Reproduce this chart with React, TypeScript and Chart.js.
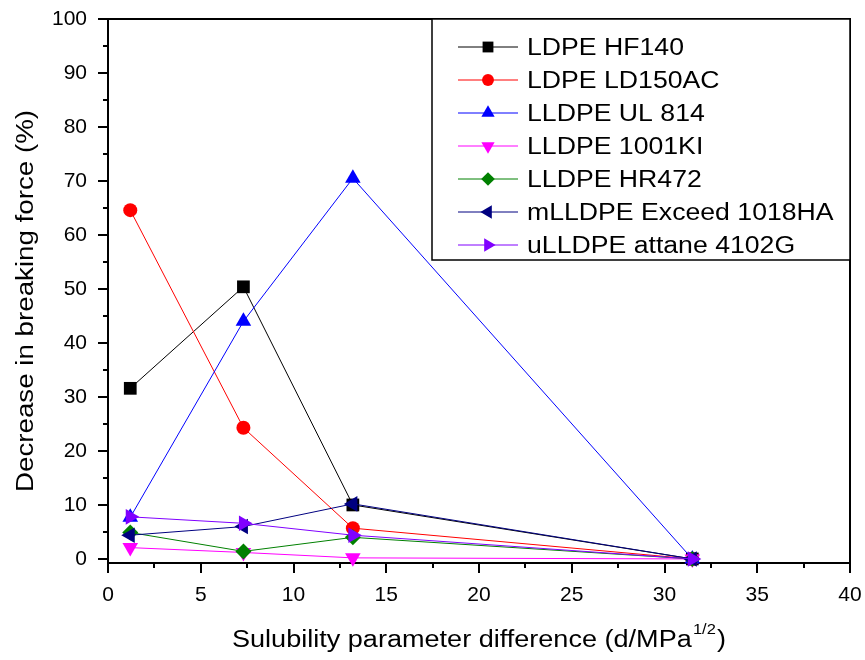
import React, { useEffect, useRef } from "react";
import { Chart, registerables } from "chart.js";

Chart.register(...registerables);

// ---- data ----
const xValues = [1.2, 7.3, 13.2, 31.5];
const seriesNames = [
  "LDPE HF140",
  "LDPE LD150AC",
  "LLDPE UL 814",
  "LLDPE 1001KI",
  "LLDPE HR472",
  "mLLDPE Exceed 1018HA",
  "uLLDPE attane 4102G",
];
const hf140 = [31.6, 50.4, 10.0, 0];
const ld150ac = [64.6, 24.3, 5.7, 0];
const ul814 = [7.7, 44.0, 70.5, 0];
const ki1001 = [2.1, 1.2, 0.2, 0];
const hr472 = [4.9, 1.4, 4.0, 0];
const exceed = [4.4, 6.0, 10.2, 0];
const attane = [7.8, 6.6, 4.4, 0];
const seriesValues = [hf140, ld150ac, ul814, ki1001, hr472, exceed, attane];

const xTicks = [0, 5, 10, 15, 20, 25, 30, 35, 40];
const xMinorTicks = [2.5, 7.5, 12.5, 17.5, 22.5, 27.5, 32.5, 37.5];
const yTicks = [0, 10, 20, 30, 40, 50, 60, 70, 80, 90, 100];
const yMinorTicks = [5, 15, 25, 35, 45, 55, 65, 75, 85, 95];

const xTitleMain = "Sulubility parameter difference (d/MPa";
const xTitleSup = "1/2";
const xTitleClose = ")";
const yTitle = "Decrease in breaking force (%)";

// ---- styles ----
const colors = ["#000000", "#ff0000", "#0000ff", "#ff00ff", "#008000", "#000080", "#8000ff"];
const pointStyles = ["rect", "circle", "triangle", "triangle", "rectRot", "triangle", "triangle"];
const rotations = [0, 0, 0, 180, 0, 270, 90];
const radii = [9, 7, 9, 9, 8, 9, 9];

const FONT = "'Liberation Sans', Arial, Helvetica, sans-serif";

function drawMarker(ctx: CanvasRenderingContext2D, style: string, r: number, rotDeg: number, x: number, y: number) {
  const rad = (rotDeg * Math.PI) / 180;
  ctx.beginPath();
  if (style === "rect") {
    const s = r * Math.SQRT1_2;
    ctx.rect(x - s, y - s, 2 * s, 2 * s);
  } else if (style === "circle") {
    ctx.arc(x, y, r, 0, Math.PI * 2);
  } else if (style === "rectRot") {
    ctx.moveTo(x, y - r);
    ctx.lineTo(x + r, y);
    ctx.lineTo(x, y + r);
    ctx.lineTo(x - r, y);
    ctx.closePath();
  } else {
    for (let k = 0; k < 3; k++) {
      const a = rad - Math.PI / 2 + (k * 2 * Math.PI) / 3;
      const px = x + Math.cos(a) * r;
      const py = y + Math.sin(a) * r;
      if (k === 0) ctx.moveTo(px, py);
      else ctx.lineTo(px, py);
    }
    ctx.closePath();
  }
  ctx.fill();
}

const framePlugin = {
  id: "frameAndTicks",
  beforeDatasetsDraw(chart: any) {
    const { ctx, chartArea } = chart;
    const xs = chart.scales.x;
    const ys = chart.scales.y;
    const { left, right, top, bottom } = chartArea;
    ctx.save();
    ctx.strokeStyle = "#000";
    ctx.lineWidth = 2;
    ctx.beginPath();
    ctx.rect(left, top, right - left, bottom - top);
    ctx.stroke();
    ctx.beginPath();
    for (const v of xTicks) {
      const px = Math.round(xs.getPixelForValue(v));
      ctx.moveTo(px, bottom);
      ctx.lineTo(px, bottom + 10);
    }
    for (const v of xMinorTicks) {
      const px = Math.round(xs.getPixelForValue(v));
      ctx.moveTo(px, bottom);
      ctx.lineTo(px, bottom + 5);
    }
    for (const v of yTicks) {
      const py = Math.round(ys.getPixelForValue(v));
      ctx.moveTo(left, py);
      ctx.lineTo(left - 10, py);
    }
    for (const v of yMinorTicks) {
      const py = Math.round(ys.getPixelForValue(v));
      ctx.moveTo(left, py);
      ctx.lineTo(left - 5, py);
    }
    ctx.stroke();
    ctx.restore();
  },
  afterDraw(chart: any) {
    const { ctx, chartArea } = chart;
    const { left, right, top, bottom } = chartArea;
    ctx.save();
    ctx.fillStyle = "#000";
    ctx.textBaseline = "alphabetic";

    // x title with superscript
    ctx.font = `23px ${FONT}`;
    const wMain = ctx.measureText(xTitleMain).width;
    const wClose = ctx.measureText(xTitleClose).width;
    ctx.font = `14px ${FONT}`;
    const wSup = ctx.measureText(xTitleSup).width;
    const total = wMain + wSup + wClose + 2;
    const targetX = 494;
    const sx = targetX / total;
    const cx = (left + right) / 2;
    ctx.save();
    ctx.translate(cx - targetX / 2, 647);
    ctx.scale(sx, 1);
    ctx.font = `23px ${FONT}`;
    ctx.textAlign = "left";
    ctx.fillText(xTitleMain, 0, 0);
    ctx.font = `14px ${FONT}`;
    ctx.fillText(xTitleSup, wMain + 1, -13);
    ctx.font = `23px ${FONT}`;
    ctx.fillText(xTitleClose, wMain + wSup + 2, 0);
    ctx.restore();

    // y title
    ctx.save();
    ctx.font = `23px ${FONT}`;
    const wY = ctx.measureText(yTitle).width;
    const sy = 382 / wY;
    ctx.translate(33, (top + bottom) / 2 + 10);
    ctx.rotate(-Math.PI / 2);
    ctx.scale(sy, 1);
    ctx.textAlign = "center";
    ctx.fillText(yTitle, 0, 0);
    ctx.restore();

    // legend box
    const lx0 = 432;
    const ly0 = top;
    const lx1 = right;
    const ly1 = 260;
    ctx.save();
    ctx.fillStyle = "#fff";
    ctx.fillRect(lx0, ly0, lx1 - lx0, ly1 - ly0);
    ctx.strokeStyle = "#000";
    ctx.lineWidth = 1.5;
    ctx.strokeRect(lx0, ly0, lx1 - lx0, ly1 - ly0);
    ctx.font = `23px ${FONT}`;
    const lsx = 157 / ctx.measureText(seriesNames[0]).width;
    seriesNames.forEach((name, i) => {
      const cy = ly0 + 28 + i * 33;
      ctx.strokeStyle = colors[i];
      ctx.lineWidth = 1;
      ctx.beginPath();
      ctx.moveTo(lx0 + 26, cy);
      ctx.lineTo(lx0 + 86, cy);
      ctx.stroke();
      ctx.fillStyle = colors[i];
      drawMarker(ctx, pointStyles[i], radii[i] * 0.85, rotations[i], lx0 + 56, cy);
      ctx.save();
      ctx.fillStyle = "#000";
      ctx.translate(lx0 + 95, cy + 8);
      ctx.scale(lsx, 1);
      ctx.textAlign = "left";
      ctx.fillText(name, 0, 0);
      ctx.restore();
    });
    ctx.restore();
    ctx.restore();
  },
};

export default function App() {
  const canvasRef = useRef<HTMLCanvasElement | null>(null);

  useEffect(() => {
    const canvas = canvasRef.current;
    if (!canvas) return;
    const datasets = seriesNames.map((name, i) => ({
      label: name,
      data: xValues.map((x, j) => ({ x, y: seriesValues[i][j] })),
      showLine: true,
      borderColor: colors[i],
      backgroundColor: colors[i],
      borderWidth: 1,
      pointStyle: pointStyles[i],
      pointRotation: rotations[i],
      pointRadius: radii[i],
      pointBorderWidth: 0,
      pointBackgroundColor: colors[i],
      clip: false as any,
      order: seriesNames.length - i,
    }));
    const chart = new Chart(canvas, {
      type: "scatter",
      data: { datasets },
      options: {
        animation: false,
        responsive: false,
        devicePixelRatio: 1,
        layout: { padding: { top: 19, right: 15, left: 0, bottom: 0 } },
        plugins: {
          legend: { display: false },
          tooltip: { enabled: false },
        },
        scales: {
          x: {
            type: "linear",
            min: 0,
            max: 40,
            grid: { display: false, drawTicks: false },
            border: { display: false },
            afterFit: (s: any) => {
              s.height = 97;
              s.paddingLeft = 0;
              s.paddingRight = 0;
            },
            afterBuildTicks: (s: any) => {
              s.ticks = xTicks.map((v) => ({ value: v }));
            },
            ticks: {
              padding: 20,
              color: "#000",
              font: { family: FONT, size: 21 },
              maxRotation: 0,
              autoSkip: false,
            },
          },
          y: {
            type: "linear",
            min: -0.75,
            max: 100,
            grid: { display: false, drawTicks: false },
            border: { display: false },
            afterFit: (s: any) => {
              s.width = 108;
              s.paddingTop = 0;
              s.paddingBottom = 0;
            },
            afterBuildTicks: (s: any) => {
              s.ticks = yTicks.map((v) => ({ value: v }));
            },
            ticks: {
              padding: 21,
              color: "#000",
              font: { family: FONT, size: 21 },
              autoSkip: false,
            },
          },
        },
      },
      plugins: [framePlugin],
    });
    return () => chart.destroy();
  }, []);

  return (
    <div style={{ position: "fixed", left: 0, top: 0, width: 865, height: 660, background: "#fff" }}>
      <canvas ref={canvasRef} width={865} height={660} style={{ width: 865, height: 660, display: "block" }} />
    </div>
  );
}
